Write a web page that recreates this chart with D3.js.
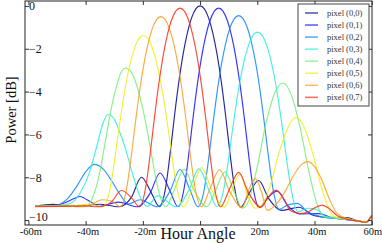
<!DOCTYPE html>
<html>
<head>
<meta charset="utf-8">
<script src="https://cdn.jsdelivr.net/npm/d3@7"></script>
<style>
	html, body { margin: 0; padding: 0; background: #fff; }
	svg { display: block; }
	svg text { font-family: "Liberation Serif", "DejaVu Serif", serif; }
</style>
</head>
<body>
<svg id="chart" width="382" height="245"></svg>
<script>
;(function(){
	'use strict';

	var pixelNames = ['pixel (0,0)', 'pixel (0,1)', 'pixel (0,2)', 'pixel (0,3)',
		'pixel (0,4)', 'pixel (0,5)', 'pixel (0,6)', 'pixel (0,7)'];

	// [hour angle (min), power (dB)]
	var px00 = [[-57.7,-9.36],[-51.4,-9.27],[-46,-9.36],[-42,-9.36],[-35,-9.26],[-28.4,-9.38],[-24,-8.94],[-20.5,-8.0],[-17,-8.74],[-14.2,-9.38],[-12,-8.45],[-10.5,-6.93],[-9,-5.2],[-7.5,-3.62],[-6,-2.31],[-4.5,-1.29],[-3,-0.57],[-1.5,-0.14],[0,0],[1.5,-0.14],[3,-0.57],[4.5,-1.29],[6,-2.31],[7.5,-3.62],[9,-5.2],[10.5,-6.93],[12,-8.45],[14.2,-9.4],[17,-8.78],[20.5,-8.15],[24,-9.0],[28.4,-9.55],[34.5,-9.4],[40,-9.8],[46,-9.9],[51.4,-9.88],[55,-10.04],[58,-10.09],[60,-9.79]];
	var px01 = [[-57.7,-9.36],[-50,-9.3],[-47,-9.18],[-44.5,-9.02],[-42,-8.9],[-39.5,-9.05],[-37,-9.25],[-35.5,-9.36],[-28.5,-9.16],[-21.9,-9.38],[-17.5,-8.75],[-14,-7.8],[-10.5,-8.64],[-7.7,-9.38],[-5.5,-8.46],[-4,-6.98],[-2.5,-5.27],[-1,-3.71],[0.5,-2.4],[2,-1.39],[3.5,-0.67],[5,-0.24],[6.5,-0.1],[8,-0.24],[9.5,-0.67],[11,-1.39],[12.5,-2.4],[14,-3.71],[15.5,-5.27],[17,-6.98],[18.5,-8.46],[20.7,-9.42],[23.5,-8.98],[27,-8.65],[30.5,-9.3],[34.9,-9.71],[41.5,-9.7],[46,-9.88],[50,-9.96],[55,-10.04],[58,-10.09],[60,-9.79]];
	var px02 = [[-57.7,-9.36],[-50,-9.3],[-46,-8.95],[-43,-8.4],[-40,-7.75],[-37,-7.4],[-34,-7.6],[-31,-8.15],[-28,-8.8],[-25,-9.25],[-21,-9.05],[-14.9,-9.38],[-10.5,-8.64],[-7,-7.64],[-3.5,-8.6],[-0.7,-9.38],[1.5,-8.53],[3,-7.14],[4.5,-5.51],[6,-3.99],[7.5,-2.71],[9,-1.72],[10.5,-1.01],[12,-0.59],[13.5,-0.45],[15,-0.59],[16.5,-1.01],[18,-1.72],[19.5,-2.71],[21,-3.99],[22.5,-5.51],[24,-7.14],[25.5,-8.55],[27.7,-9.5],[30.5,-9.3],[34,-9.22],[37.5,-9.6],[41.9,-9.83],[50,-9.96],[55,-10.04],[58,-10.09],[60,-9.79]];
	var px03 = [[-57.7,-9.36],[-50,-9.33],[-45,-9.2],[-42,-8.75],[-39,-7.9],[-36,-6.5],[-34,-5.5],[-32.2,-5.07],[-30.4,-5.2],[-28.5,-5.75],[-26,-6.7],[-23.5,-7.9],[-21,-8.9],[-18.5,-9.36],[-14.9,-8.87],[-8.3,-9.38],[-3.9,-8.6],[-0.4,-7.61],[3.1,-8.6],[5.9,-9.38],[8.1,-8.67],[9.6,-7.48],[11.1,-6.02],[12.6,-4.61],[14.1,-3.4],[15.6,-2.45],[17.1,-1.77],[18.6,-1.35],[20.1,-1.22],[21.6,-1.35],[23.1,-1.77],[24.6,-2.45],[26.1,-3.4],[27.6,-4.61],[29.1,-6.02],[30.6,-7.5],[32.1,-8.75],[34.3,-9.62],[37.6,-9.45],[40.6,-9.5],[44.1,-9.85],[50,-9.96],[55,-10.04],[58,-10.09],[60,-9.79]];
	var px04 = [[-57.7,-9.36],[-51,-9.34],[-46.6,-9.3],[-43.1,-9.33],[-40.3,-9.38],[-38.1,-9.1],[-35.1,-7.8],[-33.6,-6.7],[-32.1,-5.55],[-30.6,-4.5],[-29.1,-3.7],[-27.6,-3.1],[-26.1,-2.9],[-24.6,-3.0],[-23.1,-3.35],[-21.6,-3.95],[-20.1,-4.75],[-18.6,-5.75],[-17.1,-6.85],[-15.6,-7.95],[-14.1,-8.85],[-11.9,-9.38],[-9.1,-8.62],[-5.6,-7.62],[-2.1,-8.6],[2.3,-9.38],[5,-8.75],[8.7,-7.75],[12,-8.7],[14.8,-9.45],[17,-9.1],[20,-7.5],[23,-5.5],[26,-4.1],[29,-3.6],[32,-4.2],[35,-5.7],[38,-7.7],[41,-9.3],[43.2,-9.85],[49.5,-9.88],[55,-10.04],[58,-10.09],[60,-9.79]];
	var px05 = [[-57.7,-9.36],[-48.3,-9.36],[-43.5,-9.32],[-40.4,-9.27],[-37,-9.3],[-34.1,-9.38],[-31.9,-8.8],[-30.4,-7.7],[-28.9,-6.25],[-27.4,-4.85],[-25.9,-3.62],[-24.4,-2.66],[-22.9,-1.96],[-21.4,-1.53],[-19.9,-1.38],[-18.4,-1.49],[-16.9,-1.88],[-15.4,-2.55],[-13.9,-3.46],[-12.4,-4.63],[-10.9,-5.98],[-9.4,-7.42],[-7.9,-8.62],[-5.7,-9.38],[-2.9,-8.6],[0.6,-7.55],[4.1,-8.6],[8.5,-9.4],[10.5,-8.85],[14,-7.85],[16.5,-8.8],[19.3,-9.45],[21.5,-9.3],[24.5,-8.4],[27.5,-6.9],[30.5,-5.75],[33.5,-5.2],[36.5,-5.7],[39.5,-6.95],[42.5,-8.5],[45.5,-9.6],[47.7,-9.9],[52,-9.97],[55,-10.04],[58,-10.09],[60,-9.79]];
	var px06 = [[-57.7,-9.36],[-48.7,-9.33],[-42.1,-9.38],[-37.7,-9.25],[-34.2,-9.05],[-30.7,-9.12],[-27.9,-9.38],[-25.7,-8.54],[-24.2,-7.17],[-22.7,-5.55],[-21.2,-4.03],[-19.7,-2.76],[-18.2,-1.77],[-16.7,-1.06],[-15.2,-0.64],[-13.7,-0.5],[-12.2,-0.64],[-10.7,-1.06],[-9.2,-1.77],[-7.7,-2.76],[-6.2,-4.03],[-4.7,-5.55],[-3.2,-7.17],[-1.7,-8.54],[0.5,-9.38],[3.3,-8.6],[6.8,-7.64],[10.3,-8.64],[14.7,-9.42],[17,-8.6],[19.3,-8.05],[21.5,-8.7],[23.5,-9.55],[27,-9.2],[30,-8.6],[33,-7.85],[35.5,-7.4],[37.7,-7.27],[40,-7.5],[42.5,-8.1],[45,-8.95],[48,-9.7],[52,-9.95],[55,-10.04],[58,-10.09],[60,-9.79]];
	var px07 = [[-57.7,-9.38],[-49,-9.36],[-42,-9.33],[-35.4,-9.38],[-31,-9.15],[-27.5,-8.62],[-24,-8.95],[-21.2,-9.38],[-19,-8.46],[-17.5,-6.98],[-16,-5.27],[-14.5,-3.71],[-13,-2.4],[-11.5,-1.39],[-10,-0.67],[-8.5,-0.24],[-7,-0.1],[-5.5,-0.24],[-4,-0.67],[-2.5,-1.39],[-1,-2.4],[0.5,-3.71],[2,-5.27],[3.5,-6.98],[5,-8.46],[7.2,-9.38],[10,-8.64],[13.5,-7.77],[17,-8.74],[21.4,-9.4],[23.5,-9.0],[26.5,-8.6],[29.5,-9.05],[31.5,-9.55],[35,-9.7],[38,-9.6],[40.5,-9.4],[42.6,-9.3],[45,-9.45],[48,-9.8],[52,-9.98],[55,-10.04],[58,-10.1],[60,-9.8]];

	var seriesValues = [px00, px01, px02, px03, px04, px05, px06, px07];

	var xTicks = [-60, -40, -20, 0, 20, 40, 60];
	var xTickLabels = ['-60m', '-40m', '-20m', '', '20m', '40m', '60m'];
	var yTicks = [0, -2, -4, -6, -8, -10];
	var yTickLabels = ['0', '\u22122', '\u22124', '\u22126', '\u22128', '\u221210'];

	var lineColors = ['#00008f', '#1010ff', '#0a84ff', '#22f0dc', '#72f072', '#eeee10', '#ff9a1a', '#ff2a10'];

	var width = 382,
		height = 245,
		left = 25,
		right = 372,
		top = 1,
		bottom = 225;

	var svg = d3.select('#chart')
		.attr('width', width)
		.attr('height', height);

	var x = d3.scaleLinear()
		.domain([-61.2, 60.1])
		.range([left, right]);

	var y = d3.scaleLinear()
		.domain([-10.23, 0.23])
		.range([bottom, top]);

	svg.append('defs')
		.append('clipPath')
		.attr('id', 'plot-clip')
		.append('rect')
		.attr('x', left)
		.attr('y', top)
		.attr('width', right - left)
		.attr('height', bottom - top);

	var line = d3.line()
		.x(function (d) { return x(d[0]); })
		.y(function (d) { return y(d[1]); })
		.curve(d3.curveMonotoneX);

	svg.append('g')
		.attr('clip-path', 'url(#plot-clip)')
		.selectAll('path')
		.data(seriesValues)
		.enter()
		.append('path')
		.attr('d', line)
		.attr('fill', 'none')
		.attr('stroke', function (d, i) { return lineColors[i]; })
		.attr('stroke-width', 1.15)
		.attr('stroke-opacity', 0.85)
		.attr('stroke-linejoin', 'round');

	// axes: ticks point inwards on all four sides
	var xAxis = svg.append('g')
		.attr('transform', 'translate(0,' + bottom + ')')
		.call(d3.axisBottom(x)
			.tickValues(xTicks)
			.tickSize(-4)
			.tickPadding(3)
			.tickFormat(function (d, i) { return xTickLabels[i]; }));

	xAxis.attr('font-family', null)
		.attr('font-size', null);

	xAxis.selectAll('text')
		.attr('x', 2)
		.style('font-size', '10.5px')
		.attr('fill', '#111')
		.filter(function (d) { return d === 60; })
		.attr('text-anchor', 'end')
		.attr('x', 10);

	svg.append('g')
		.attr('transform', 'translate(0,' + top + ')')
		.call(d3.axisTop(x)
			.tickValues(xTicks)
			.tickSize(-4)
			.tickFormat(''));

	var yAxis = svg.append('g')
		.attr('transform', 'translate(' + left + ',0)')
		.call(d3.axisLeft(y)
			.tickValues(yTicks)
			.tickSize(-4)
			.tickPadding(-4)
			.tickFormat(function (d, i) { return yTickLabels[i]; }));

	yAxis.attr('font-family', null)
		.attr('font-size', null);

	yAxis.selectAll('text')
		.attr('text-anchor', 'start')
		.style('font-size', '12px')
		.attr('fill', '#111')
		.filter(function (d) { return d === -10; })
		.attr('y', -3);

	svg.append('g')
		.attr('transform', 'translate(' + right + ',0)')
		.call(d3.axisRight(y)
			.tickValues(yTicks)
			.tickSize(-4)
			.tickFormat(''));

	svg.selectAll('.domain').remove();
	svg.selectAll('.tick line').attr('stroke', '#333');

	svg.append('rect')
		.attr('x', left)
		.attr('y', top)
		.attr('width', right - left)
		.attr('height', bottom - top)
		.attr('fill', 'none')
		.attr('stroke', '#222')
		.attr('stroke-width', 1);

	svg.append('text')
		.attr('x', 198)
		.attr('y', 239)
		.attr('text-anchor', 'middle')
		.style('font-size', '16px')
		.attr('fill', '#111')
		.text('Hour Angle');

	svg.append('text')
		.attr('transform', 'translate(16,110) rotate(-90)')
		.attr('text-anchor', 'middle')
		.style('font-size', '14.5px')
		.attr('fill', '#111')
		.text('Power [dB]');

	// legend
	var legend = svg.append('g')
		.attr('transform', 'translate(298,4)');

	legend.append('rect')
		.attr('width', 71)
		.attr('height', 102)
		.attr('fill', '#fff')
		.attr('stroke', '#444')
		.attr('stroke-width', 1);

	var item = legend.selectAll('g.item')
		.data(pixelNames)
		.enter()
		.append('g')
		.attr('class', 'item')
		.attr('transform', function (d, i) { return 'translate(0,' + (9 + i * 12.05) + ')'; });

	item.append('line')
		.attr('x1', 7)
		.attr('x2', 20)
		.attr('stroke', function (d, i) { return lineColors[i]; })
		.attr('stroke-opacity', 0.7)
		.attr('stroke-width', 1.5);

	item.append('text')
		.attr('x', 29)
		.attr('dy', '0.33em')
		.style('font-size', '8.5px')
		.attr('fill', '#333')
		.text(function (d) { return d; });
})();
</script>
</body>
</html>
